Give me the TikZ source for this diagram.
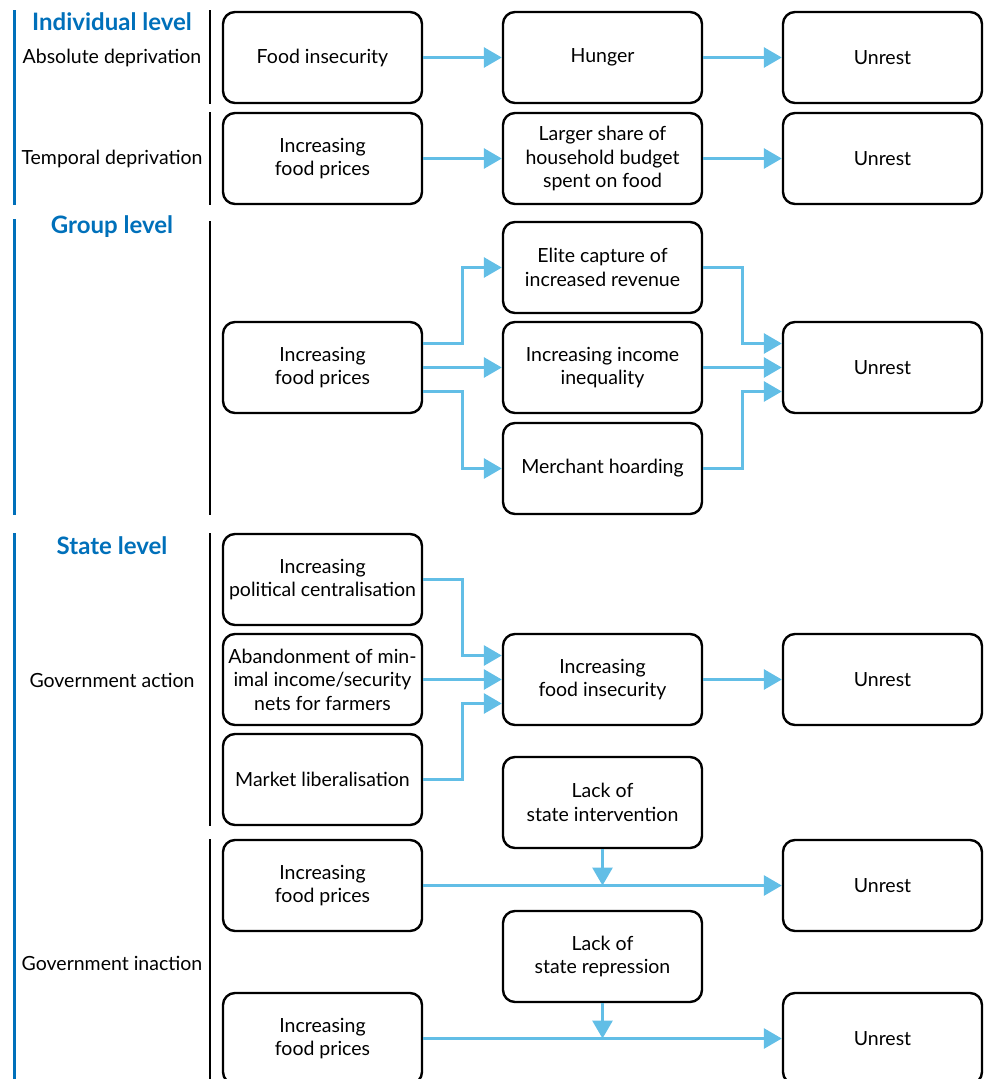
\documentclass[tikz,border=0pt]{standalone}
\usepackage{fontspec}
\setmainfont{Lato}
\usepackage{tikz}
\usetikzlibrary{arrows.meta,positioning}
\definecolor{arrowblue}{RGB}{98,190,230}
\definecolor{headblue}{RGB}{0,112,186}
\tikzset{
	box/.style={draw, line width=2.4pt, rounded corners=12pt, minimum width=199pt, minimum height=91pt, align=center, font=\fontsize{19.5}{23.5}\selectfont},
	lab/.style={fill=none, draw=none, font=\fontsize{19.5}{23.5}\selectfont},
	head/.style={fill=none, draw=none, text=headblue, font=\fontsize{24}{28}\selectfont\bfseries},
	arr/.style={draw=arrowblue, line width=3pt, -{Triangle[length=18pt,width=20pt]}},
	bluebar/.style={draw=headblue, line width=3pt},
	blackbar/.style={draw=black, line width=2.6pt}
}
\begin{document}
\begin{tikzpicture}[x=1pt,y=-1pt]
	\clip (0,0) rectangle (992,1079);
	% side labels
	\node [head] (indiv) at (112,22) {Individual level};
	\node [lab] (absdep) at (112,58) {Absolute deprivation};
	\node [lab] (tempdep) at (112,159) {Temporal deprivation};
	\node [head] (group) at (112,227) {Group level};
	\node [head] (state) at (112,546) {State level};
	\node [lab] (govact) at (112,680) {Government action};
	\node [lab] (govinact) at (112,963) {Government inaction};
	\draw [bluebar] (14,10) -- (14,205);
	\draw [bluebar] (14,219) -- (14,515);
	\draw [bluebar] (14,533) -- (14,1079);
	\draw [blackbar] (210,10) -- (210,104);
	\draw [blackbar] (210,112) -- (210,205);
	\draw [blackbar] (210,221) -- (210,515);
	\draw [blackbar] (210,533) -- (210,826);
	\draw [blackbar] (210,839) -- (210,1079);
	% individual level
	\node [box] (A) at (322.5,57.5) {Food insecurity};
	\node [box] (B) at (602.5,57.5) {Hunger};
	\node [box] (C) at (882.5,57.5) {Unrest};
	\node [box] (D) at (322.5,158.5) {Increasing\\food prices};
	\node [box] (E) at (602.5,158.5) {Larger share of\\household budget\\spent on food};
	\node [box] (F) at (882.5,158.5) {Unrest};
	\path [arr] (A) -- (B);
	\path [arr] (B) -- (C);
	\path [arr] (D) -- (E);
	\path [arr] (E) -- (F);
	% group level
	\node [box] (G) at (322.5,367.5) {Increasing\\food prices};
	\node [box] (H) at (602.5,267.5) {Elite capture of\\increased revenue};
	\node [box] (I) at (602.5,367.5) {Increasing income\\inequality};
	\node [box] (J) at (602.5,468.5) {Merchant hoarding};
	\node [box] (K) at (882.5,367.5) {Unrest};
	\path [arr] ([yshift=24pt]G.east) -- ++(39,0) |- (H.west);
	\path [arr] (G) -- (I);
	\path [arr] ([yshift=-24pt]G.east) -- ++(39,0) |- (J.west);
	\path [arr] (H.east) -- ++(39,0) |- ([yshift=24pt]K.west);
	\path [arr] (I) -- (K);
	\path [arr] (J.east) -- ++(39,0) |- ([yshift=-24pt]K.west);
	% state level
	\node [box] (L) at (322.5,579.5) {Increasing\\political centralisation};
	\node [box] (M) at (322.5,679.5) {Abandonment of min-\\imal income/security\\nets for farmers};
	\node [box] (N) at (322.5,779.5) {Market liberalisation};
	\node [box] (O) at (602.5,679.5) {Increasing\\food insecurity};
	\node [box] (P) at (882.5,679.5) {Unrest};
	\path [arr] (L.east) -- ++(39,0) |- ([yshift=24pt]O.west);
	\path [arr] (M) -- (O);
	\path [arr] (N.east) -- ++(39,0) |- ([yshift=-24pt]O.west);
	\path [arr] (O) -- (P);
	\node [box] (Q) at (602.5,802.5) {Lack of\\state intervention};
	\node [box] (R) at (322.5,885.5) {Increasing\\food prices};
	\node [box] (S) at (882.5,885.5) {Unrest};
	\path [arr] (R) -- (S);
	\path [arr] (Q.south) -- (Q.south |- R.east);
	\node [box] (T) at (602.5,956.5) {Lack of\\state repression};
	\node [box] (U) at (322.5,1038.5) {Increasing\\food prices};
	\node [box] (V) at (882.5,1038.5) {Unrest};
	\path [arr] (U) -- (V);
	\path [arr] (T.south) -- (T.south |- U.east);
\end{tikzpicture}
\end{document}
